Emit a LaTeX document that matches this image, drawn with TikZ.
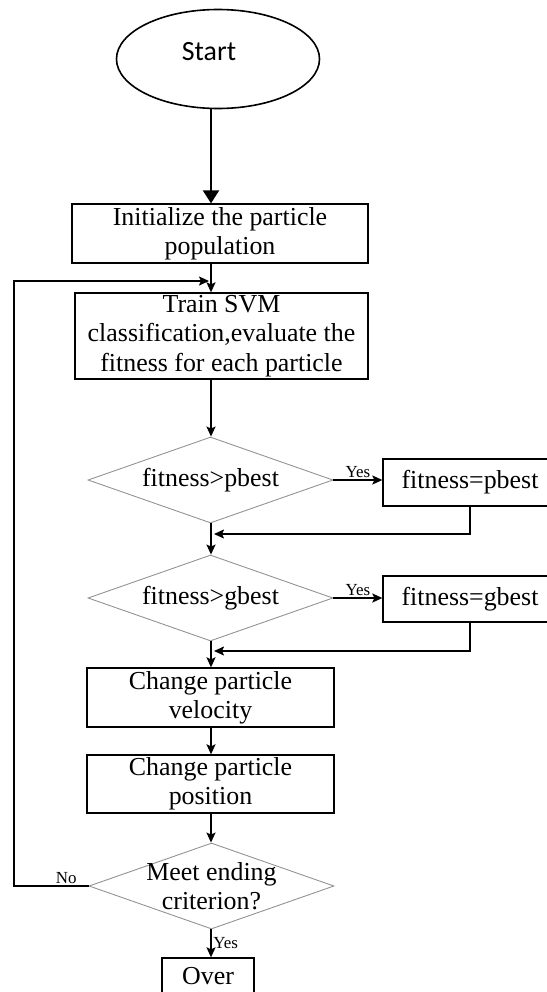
\documentclass[tikz,border=0pt]{standalone}
\usepackage{fontspec}
\setmainfont{Liberation Serif}
\newfontfamily\startfont{Carlito}
\usetikzlibrary{shapes.geometric, arrows.meta}

\begin{document}
\begin{tikzpicture}[x=1bp, y=-1bp,
		every node/.style={font=\fontsize{26}{29.5}\selectfont},
		terminal/.style={ellipse, draw, line width=1.6bp, minimum width=203bp, minimum height=99bp},
		procbox/.style={draw, line width=1.3bp, align=center, inner sep=0pt},
		decision/.style={diamond, draw=gray!85, line width=0.9bp, minimum width=245bp, minimum height=86bp, inner sep=0pt},
		diatext/.style={align=center, inner sep=0pt},
		flow/.style={-{Stealth[length=10bp, width=9bp, inset=2bp]}, line width=1.6bp},
		bigflow/.style={-{Triangle[length=13bp, width=16bp]}, line width=2.2bp},
		yesno/.style={font=\fontsize{17}{17}\selectfont, inner sep=1.5bp}]

			\useasboundingbox (0,0) rectangle (547,992);

			% main column and loop helpers
			\coordinate (col) at (211,0);
			\coordinate (loopx) at (14,0);
			\coordinate (loopin) at (209,281);
			\coordinate (m1) at (214,534);
			\coordinate (m2) at (214,651);

			\node[terminal, label={[font=\startfont\fontsize{28}{28}\selectfont, xshift=-9bp, yshift=7bp]center:Start}] (start) at (218,59) {};
			\node[procbox, minimum width=296bp, minimum height=59bp] (init) at (220,233.5) {Initialize the particle\\population};
			\node[procbox, minimum width=293bp, minimum height=86bp] (train) at (221.5,336) {Train SVM\\classification,evaluate the\\fitness for each particle};
			\node[decision, label={[diatext]center:fitness>pbest}] (d1) at (210.5,480) {};
			\node[procbox, minimum width=174bp, minimum height=47bp] (pb) at (470,482.5) {fitness=pbest};
			\node[decision, label={[diatext]center:fitness>gbest}] (d2) at (210.5,598) {};
			\node[procbox, minimum width=174bp, minimum height=46bp] (gb) at (470,599) {fitness=gbest};
			\node[procbox, minimum width=247bp, minimum height=59bp] (vel) at (210.5,697.5) {Change particle\\velocity};
			\node[procbox, minimum width=247bp, minimum height=58bp] (pos) at (210.5,784) {Change particle\\position};
			\node[decision, label={[diatext]center:Meet ending\\criterion?}] (d3) at (211.5,886) {};
			\node[procbox, minimum width=92bp, minimum height=36bp] (over) at (208,976) {Over};

			\draw[bigflow] (start.south -| col) -- (init.north -| col);
			\draw[flow] (init.south -| col) -- (train.north -| col);
			\draw[flow] (train.south -| col) -- (d1.north -| col);
			\draw[flow] (d1.east) -- node[yesno, above] {Yes} (d1.east -| pb.west);
			\draw[flow] (pb.south) |- (m1); % back to column
			\draw[flow] (d1.south -| col) -- (d2.north -| col);
			\draw[flow] (d2.east) -- node[yesno, above] {Yes} (d2.east -| gb.west);
			\draw[flow] (gb.south) |- (m2); % back to column
			\draw[flow] (d2.south -| col) -- (vel.north -| col);
			\draw[flow] (vel.south -| col) -- (pos.north -| col);
			\draw[flow] (pos.south -| col) -- (d3.north -| col);
			\draw[flow] (d3.south -| col) -- node[yesno, right] {Yes} (over.north -| col);
			\draw[flow] (d3.west) -- node[yesno, above, pos=0.3] {No} (d3.west -| loopx) |- (loopin); % loop
		\end{tikzpicture}
\end{document}
